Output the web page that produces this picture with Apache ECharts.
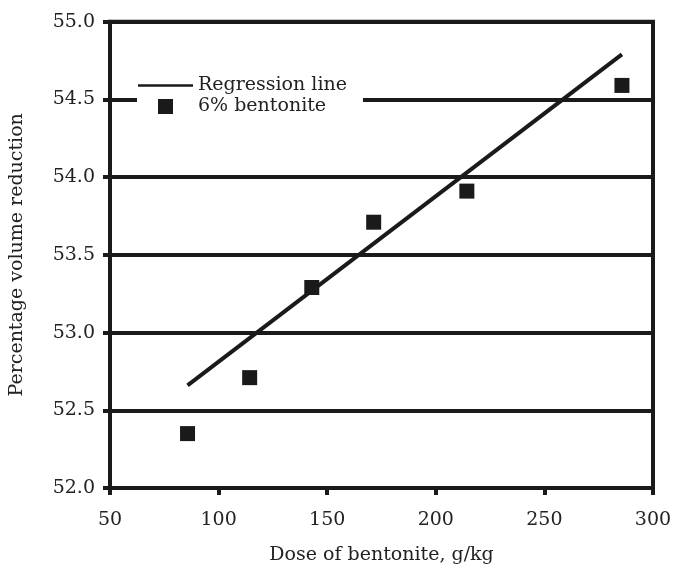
<!DOCTYPE html>
<html>
<head>
<meta charset="utf-8">
<script src="https://cdn.jsdelivr.net/npm/echarts@6/dist/echarts.min.js"></script>
<style>html,body{margin:0;padding:0;background:#fff}#c{width:675px;height:571px}</style>
</head>
<body>
<div id="c"></div>
<script>
const doses = [85.7, 114.3, 142.9, 171.4, 214.3, 285.7];
const reduction = [52.35, 52.71, 53.29, 53.71, 53.91, 54.59];
const regX = [85.7, 285.7];
const regY = [52.66, 54.79];
const xTicks = [50, 100, 150, 200, 250, 300];
const yTicks = [52.0, 52.5, 53.0, 53.5, 54.0, 54.5, 55.0];

const ink = '#1a1a1a';
const txt = '#222';
const font = 'DejaVu Serif';
const fs = 19;

const chart = echarts.init(document.getElementById('c'), null, {renderer: 'canvas'});
chart.setOption({
  animation: false,
  backgroundColor: '#fff',
  textStyle: {fontFamily: font, color: txt},
  grid: {left: 107.5, right: 22, top: 21.7, bottom: 83, show: true, borderWidth: 4, borderColor: ink, backgroundColor: 'transparent'},
  legend: {
    left: 137, top: 70,
    orient: 'vertical',
    backgroundColor: '#fff',
    padding: [5, 16, 5, 1],
    itemWidth: 55, itemHeight: 15, itemGap: 0,
    symbolKeepAspect: true,
    textStyle: {fontFamily: font, fontSize: fs, color: txt, lineHeight: 21},
    data: [
      {name: 'Regression line', icon: 'path://M0,0 L54,0 L54,2.5 L0,2.5 Z', itemStyle: {color: ink}},
      {name: '6% bentonite', icon: 'path://M0,0 L1,0 L1,1 L0,1 Z', itemStyle: {color: ink}}
    ]
  },
  xAxis: {
    type: 'value', min: xTicks[0], max: xTicks[xTicks.length - 1], interval: 50,
    name: 'Dose of bentonite, g/kg', nameLocation: 'middle', nameGap: 58,
    nameTextStyle: {fontFamily: font, fontSize: fs, color: txt},
    axisLine: {show: true, lineStyle: {color: ink, width: 4}},
    axisTick: {show: true, length: 7, lineStyle: {color: ink, width: 4}},
    axisLabel: {margin: 23, fontFamily: font, fontSize: fs, color: txt},
    splitLine: {show: false}
  },
  yAxis: {
    type: 'value', min: yTicks[0], max: yTicks[yTicks.length - 1], interval: 0.5,
    name: 'Percentage volume reduction', nameLocation: 'middle', nameGap: 83,
    nameTextStyle: {fontFamily: font, fontSize: fs, color: txt},
    axisLine: {show: true, lineStyle: {color: ink, width: 4}},
    axisTick: {show: true, length: 7, lineStyle: {color: ink, width: 4}},
    axisLabel: {margin: 15, fontFamily: font, fontSize: fs, color: txt, formatter: v => v.toFixed(1)},
    splitLine: {show: true, lineStyle: {color: ink, width: 4}}
  },
  series: [
    {
      name: 'Regression line', type: 'line', showSymbol: false, symbol: 'none',
      data: regX.map((x, i) => [x, regY[i]]),
      lineStyle: {color: ink, width: 4}, itemStyle: {color: ink}, z: 3
    },
    {
      name: '6% bentonite', type: 'scatter', symbol: 'rect', symbolSize: 15,
      data: doses.map((x, i) => [x, reduction[i]]),
      itemStyle: {color: ink, opacity: 1}, z: 4
    }
  ]
});
</script>
</body>
</html>
